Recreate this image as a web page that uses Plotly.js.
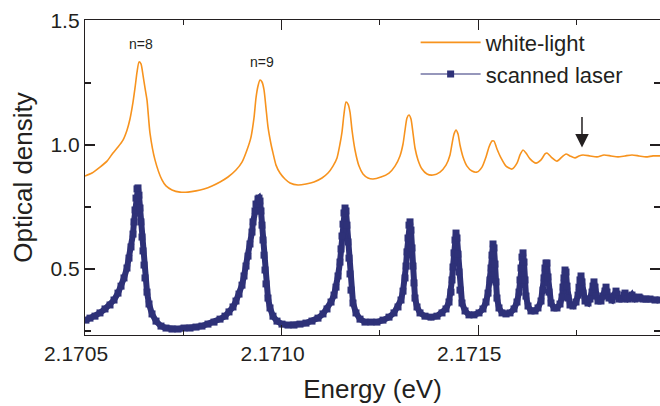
<!DOCTYPE html>
<html><head><meta charset="utf-8">
<script src="https://cdn.plot.ly/plotly-3.0.1.min.js"></script>
<style>html,body{margin:0;padding:0;background:#fff}#chart{width:660px;height:406px}</style>
</head><body><div id="chart"></div>
<script>
// White-light absorption spectrum (orange)
const whiteEnergy = [2.1705000,2.1705178,2.1705381,2.1705560,2.1705712,2.1705839,2.1705966,2.1706068,2.1706144,2.1706221,2.1706272,2.1706323,2.1706373,2.1706424,2.1706475,2.1706526,2.1706577,2.1706653,2.1706780,2.1706958,2.1707060,2.1707213,2.1707416,2.1707620,2.1707823,2.1708027,2.1708230,2.1708434,2.1708637,2.1708840,2.1708993,2.1709120,2.1709222,2.1709298,2.1709349,2.1709400,2.1709451,2.1709502,2.1709553,2.1709603,2.1709654,2.1709730,2.1709781,2.1709858,2.1709959,2.1710086,2.1710214,2.1710417,2.1710621,2.1710824,2.1711028,2.1711180,2.1711307,2.1711409,2.1711485,2.1711536,2.1711587,2.1711638,2.1711689,2.1711740,2.1711791,2.1711867,2.1711969,2.1712070,2.1712197,2.1712325,2.1712528,2.1712732,2.1712884,2.1713011,2.1713088,2.1713139,2.1713189,2.1713240,2.1713291,2.1713342,2.1713393,2.1713469,2.1713571,2.1713698,2.1713851,2.1714029,2.1714181,2.1714283,2.1714334,2.1714385,2.1714436,2.1714487,2.1714537,2.1714614,2.1714715,2.1714842,2.1714970,2.1715097,2.1715199,2.1715275,2.1715351,2.1715402,2.1715478,2.1715580,2.1715707,2.1715860,2.1715987,2.1716063,2.1716140,2.1716216,2.1716318,2.1716470,2.1716598,2.1716699,2.1716750,2.1716852,2.1717004,2.1717132,2.1717233,2.1717335,2.1717462,2.1717564,2.1717666,2.1717844,2.1718022,2.1718200,2.1718378,2.1718556,2.1718734,2.1718912,2.1719090,2.1719268,2.1719446,2.1719624];
const whiteOD = [0.875,0.887,0.911,0.935,0.968,0.992,1.020,1.060,1.105,1.173,1.230,1.294,1.335,1.327,1.282,1.230,1.181,1.048,0.940,0.859,0.835,0.819,0.810,0.810,0.815,0.823,0.835,0.851,0.871,0.899,0.931,0.980,1.032,1.109,1.190,1.238,1.262,1.254,1.222,1.149,1.073,1.004,0.968,0.919,0.887,0.863,0.847,0.839,0.843,0.851,0.867,0.887,0.915,0.948,1.004,1.052,1.125,1.173,1.165,1.133,1.060,0.980,0.915,0.883,0.867,0.863,0.871,0.887,0.915,0.956,1.004,1.060,1.109,1.121,1.105,1.048,0.988,0.940,0.903,0.883,0.879,0.891,0.919,0.960,1.004,1.044,1.060,1.044,1.000,0.952,0.915,0.895,0.891,0.911,0.952,0.992,1.016,1.016,0.984,0.948,0.915,0.903,0.927,0.960,0.980,0.968,0.944,0.927,0.940,0.964,0.968,0.952,0.935,0.952,0.964,0.956,0.948,0.956,0.960,0.956,0.952,0.960,0.956,0.952,0.956,0.960,0.956,0.952,0.956,0.956];

// Scanned laser absorption spectrum (navy)
const laserEnergy = [2.1705025,2.1705127,2.1705254,2.1705381,2.1705509,2.1705636,2.1705738,2.1705839,2.1705916,2.1705992,2.1706068,2.1706119,2.1706170,2.1706221,2.1706246,2.1706272,2.1706297,2.1706323,2.1706348,2.1706373,2.1706399,2.1706424,2.1706450,2.1706475,2.1706501,2.1706526,2.1706577,2.1706628,2.1706704,2.1706806,2.1706933,2.1707060,2.1707213,2.1707365,2.1707518,2.1707671,2.1707823,2.1707976,2.1708128,2.1708281,2.1708434,2.1708561,2.1708662,2.1708764,2.1708840,2.1708917,2.1708993,2.1709044,2.1709095,2.1709146,2.1709196,2.1709247,2.1709273,2.1709324,2.1709349,2.1709400,2.1709425,2.1709451,2.1709476,2.1709502,2.1709527,2.1709553,2.1709578,2.1709603,2.1709654,2.1709705,2.1709781,2.1709883,2.1710010,2.1710163,2.1710315,2.1710468,2.1710621,2.1710773,2.1710926,2.1711053,2.1711155,2.1711257,2.1711333,2.1711384,2.1711435,2.1711485,2.1711511,2.1711536,2.1711562,2.1711587,2.1711613,2.1711638,2.1711663,2.1711689,2.1711714,2.1711740,2.1711765,2.1711816,2.1711892,2.1711994,2.1712121,2.1712274,2.1712426,2.1712579,2.1712732,2.1712859,2.1712961,2.1713037,2.1713088,2.1713139,2.1713164,2.1713189,2.1713215,2.1713240,2.1713266,2.1713291,2.1713317,2.1713342,2.1713367,2.1713393,2.1713444,2.1713520,2.1713647,2.1713800,2.1713952,2.1714080,2.1714181,2.1714258,2.1714308,2.1714334,2.1714359,2.1714385,2.1714410,2.1714436,2.1714461,2.1714487,2.1714512,2.1714537,2.1714588,2.1714665,2.1714766,2.1714893,2.1715021,2.1715122,2.1715199,2.1715250,2.1715300,2.1715326,2.1715351,2.1715377,2.1715402,2.1715428,2.1715453,2.1715478,2.1715529,2.1715606,2.1715707,2.1715809,2.1715911,2.1715987,2.1716038,2.1716063,2.1716089,2.1716114,2.1716140,2.1716165,2.1716191,2.1716216,2.1716267,2.1716343,2.1716445,2.1716521,2.1716598,2.1716648,2.1716674,2.1716699,2.1716725,2.1716750,2.1716776,2.1716801,2.1716852,2.1716928,2.1717004,2.1717081,2.1717132,2.1717157,2.1717182,2.1717208,2.1717233,2.1717259,2.1717284,2.1717335,2.1717411,2.1717488,2.1717539,2.1717564,2.1717589,2.1717615,2.1717640,2.1717666,2.1717717,2.1717793,2.1717844,2.1717895,2.1717920,2.1717945,2.1717971,2.1717996,2.1718047,2.1718123,2.1718174,2.1718225,2.1718251,2.1718276,2.1718327,2.1718403,2.1718454,2.1718505,2.1718530,2.1718581,2.1718658,2.1718708,2.1718734,2.1718759,2.1718810,2.1718861,2.1718912,2.1718937,2.1718988,2.1719039,2.1719090,2.1719115,2.1719192,2.1719268,2.1719370,2.1719497,2.1719624];
const laserOD = [0.294,0.302,0.310,0.323,0.339,0.355,0.375,0.403,0.431,0.464,0.504,0.544,0.589,0.641,0.690,0.738,0.786,0.823,0.827,0.798,0.746,0.690,0.629,0.573,0.516,0.464,0.407,0.359,0.319,0.290,0.270,0.262,0.258,0.258,0.262,0.262,0.266,0.270,0.278,0.286,0.298,0.310,0.327,0.347,0.371,0.399,0.435,0.472,0.512,0.552,0.601,0.649,0.690,0.734,0.762,0.782,0.786,0.774,0.734,0.677,0.617,0.556,0.496,0.440,0.383,0.343,0.310,0.290,0.278,0.274,0.274,0.278,0.282,0.290,0.302,0.319,0.339,0.367,0.395,0.427,0.472,0.528,0.581,0.633,0.681,0.726,0.746,0.734,0.677,0.609,0.544,0.480,0.415,0.363,0.323,0.298,0.286,0.286,0.286,0.294,0.306,0.323,0.347,0.375,0.411,0.464,0.512,0.569,0.625,0.677,0.690,0.657,0.585,0.512,0.444,0.383,0.347,0.323,0.310,0.306,0.310,0.323,0.339,0.367,0.407,0.456,0.508,0.565,0.617,0.645,0.625,0.560,0.488,0.415,0.363,0.331,0.315,0.315,0.323,0.339,0.367,0.403,0.456,0.504,0.556,0.601,0.585,0.520,0.448,0.383,0.343,0.323,0.319,0.323,0.339,0.367,0.407,0.456,0.504,0.548,0.565,0.528,0.456,0.391,0.351,0.331,0.331,0.343,0.371,0.415,0.464,0.504,0.524,0.524,0.468,0.407,0.363,0.343,0.343,0.359,0.387,0.427,0.464,0.496,0.488,0.431,0.383,0.355,0.351,0.367,0.395,0.427,0.456,0.472,0.448,0.403,0.371,0.363,0.379,0.407,0.431,0.448,0.427,0.391,0.371,0.371,0.391,0.411,0.427,0.407,0.383,0.375,0.391,0.411,0.399,0.379,0.379,0.395,0.403,0.391,0.379,0.383,0.395,0.387,0.379,0.383,0.387,0.383,0.379,0.379,0.379,0.375,0.375];

const seriesNames = ['white-light', 'scanned laser'];
const peakLabels = ['n=8', 'n=9'];
const peakLabelEnergy = [2.1706424, 2.1709502];
const peakLabelOD = [1.407, 1.335];
const arrowEnergy = 2.171764;
const arrowOD = 0.99;

const ORANGE = '#f7931e', NAVY = '#2e3178', INK = '#231f20';
const FONT = 'Liberation Sans, Arial, Helvetica, sans-serif';

const traces = [
  {x: whiteEnergy, y: whiteOD, name: seriesNames[0], type: 'scatter', mode: 'lines',
   line: {color: ORANGE, width: 1.6, shape: 'spline', smoothing: 0.6}},
  // thick band underneath so the densely overlapping scan points read as one continuous trace
  {x: laserEnergy, y: laserOD, type: 'scatter', mode: 'lines', showlegend: false, hoverinfo: 'skip',
   line: {color: NAVY, width: 6}},
  {x: laserEnergy, y: laserOD, name: seriesNames[1], type: 'scatter', mode: 'lines+markers',
   line: {color: NAVY, width: 1.2},
   marker: {symbol: 'square', size: 7, color: NAVY}},
  {x: [laserEnergy[0]], y: [laserOD[0]], yaxis: 'y2', type: 'scatter', mode: 'markers',
   marker: {size: 0.1, opacity: 0}, showlegend: false, hoverinfo: 'skip'}
];

const annotations = peakLabels.map((t, i) => ({
  x: peakLabelEnergy[i], y: peakLabelOD[i], xref: 'x', yref: 'y', text: t, showarrow: false,
  font: {family: FONT, size: 14, color: INK}
}));
annotations.push({x: arrowEnergy, y: arrowOD, xref: 'x', yref: 'y', text: '', showarrow: true,
  ax: 0, ay: -32, arrowhead: 2, arrowsize: 1.8, arrowwidth: 1.5, arrowcolor: INK});

const axisCommon = {showline: true, linecolor: INK, linewidth: 1.2, ticks: 'inside', tickcolor: INK,
  tickwidth: 1.2, ticklen: 10, showgrid: false, zeroline: false,
  tickfont: {family: FONT, size: 21, color: INK}};

const layout = {
  width: 660, height: 406,
  margin: {l: 85, r: 0, t: 20, b: 71},
  paper_bgcolor: '#fff', plot_bgcolor: '#fff',
  font: {family: FONT, color: INK},
  showlegend: true,
  legend: {x: 0.575, y: 0.995, xanchor: 'left', yanchor: 'top', bgcolor: 'rgba(0,0,0,0)',
    font: {family: FONT, size: 22, color: INK}, itemwidth: 60, tracegroupgap: 0},
  xaxis: Object.assign({}, axisCommon, {
    range: [2.1705, 2.1719624], tick0: 2.1705, dtick: 0.0005, tickformat: '.4f',
    mirror: 'ticks', ticklabelshift: -9,
    minor: {dtick: 0.00025, tick0: 2.1705, ticks: 'inside', ticklen: 5, tickcolor: INK, tickwidth: 1.2},
    title: {text: 'Energy (eV)', font: {family: FONT, size: 26, color: INK}, standoff: 15}
  }),
  yaxis: Object.assign({}, axisCommon, {
    range: [0.234, 1.504], tick0: 0.5, dtick: 0.5, tickformat: '.1f',
    minor: {dtick: 0.25, tick0: 0.5, ticks: 'inside', ticklen: 6, tickcolor: INK, tickwidth: 1.2},
    title: {text: 'Optical density', font: {family: FONT, size: 26, color: INK}, standoff: 10}
  }),
  yaxis2: {overlaying: 'y', side: 'right', range: [0.234, 1.504], tick0: 0.5, dtick: 0.5,
    showline: false, ticks: 'inside', ticklen: 10, tickwidth: 1.2, tickcolor: INK,
    showticklabels: false, showgrid: false, zeroline: false,
    minor: {dtick: 0.25, tick0: 0.5, ticks: 'inside', ticklen: 6, tickcolor: INK, tickwidth: 1.2}},
  annotations: annotations
};

Plotly.newPlot('chart', traces, layout, {displayModeBar: false, staticPlot: true});
</script></body></html>
